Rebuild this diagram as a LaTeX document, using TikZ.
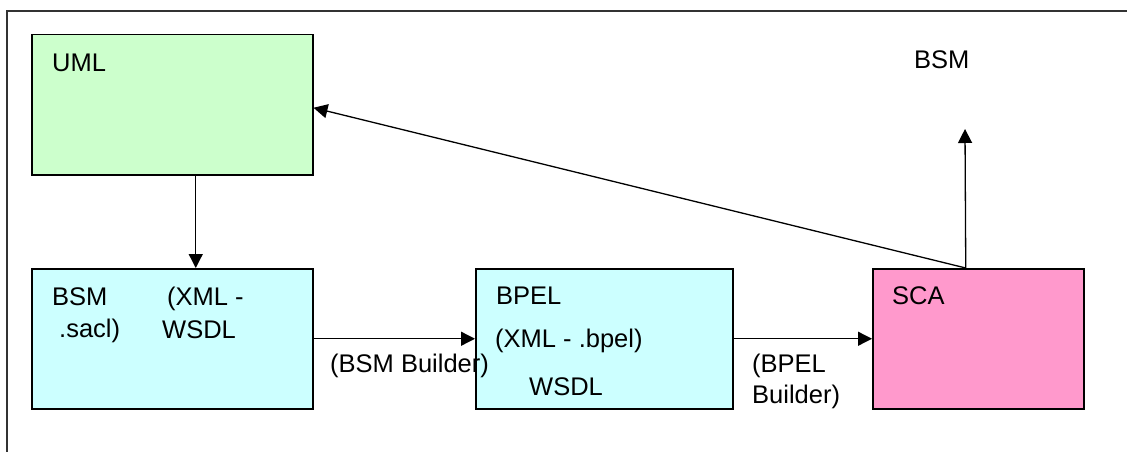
\documentclass[tikz,border=0pt]{standalone}
\usepackage{fontspec}
\setmainfont{Liberation Sans}
\usetikzlibrary{
  arrows.meta
}
\tikzset{
  model box/.style={draw,line width=1.5pt,anchor=north west,inner sep=0pt,minimum height=140pt},
  model text/.style={anchor=base west,inner sep=0pt,font=\fontsize{25.5}{31}\selectfont},
  model link/.style={draw,line width=1.3pt,-{Triangle[length=14pt,width=14pt]}},
}
\definecolor{umlgreen}{HTML}{CCFFCC}
\definecolor{bsmcyan}{HTML}{CCFFFF}
\definecolor{scapink}{HTML}{FF99CC}

\begin{document}
\begin{tikzpicture}[x=1pt,y=-1pt]
\useasboundingbox (0,0) rectangle (1127,452);
\clip (0,0) rectangle (1127,452);
\draw[line width=1.2pt,black!80] (7,470) -- (7,11) -- (1140,11);

\node[model box,fill=umlgreen,minimum width=281pt] (uml) at (31,34) {};
\node[model box,fill=bsmcyan,minimum width=281pt] (bsm) at (31,268) {};
\node[model box,fill=bsmcyan,minimum width=257pt] (bpel) at (475,268) {};
\node[model box,fill=scapink,minimum width=211pt] (sca) at (872,268) {};

\node[model text] (uml-name) at (52,71) {UML};
\node[model text] (bsm-name) at (52,305) {BSM};
\node[model text] (bsm-xml) at (167,305) {(XML -};
\node[model text] (bsm-sacl) at (59,337) {.sacl)};
\node[model text] (bsm-wsdl) at (162,338) {WSDL};
\node[model text] (bpel-name) at (496,304) {BPEL};
\node[model text] (bpel-xml) at (495,347) {(XML - .bpel)};
\node[model text] (bpel-wsdl) at (529,395) {WSDL};
\node[model text] (sca-name) at (892,304) {SCA};
\node[model text] (bsm-builder) at (330,372) {(BSM Builder)};
\node[model text,align=left] (bpel-builder) at (752,403) {(BPEL\\Builder)};
\node[model text] (bsm-out) at (914,68) {BSM};

\coordinate (sca-top) at ([xshift=-12.5pt]sca.north);
\coordinate (bsm-tip) at (965,129);
\draw[model link] ([xshift=23.5pt]uml.south) -- ([xshift=23.5pt]bsm.north);
\draw[model link] (bsm.east) -- (bpel.west);
\draw[model link] (bpel.east) -- (sca.west);
\draw[model link] (sca-top) -- ([yshift=-3pt]uml.east);
\draw[model link] (sca-top) -- (bsm-tip);
\end{tikzpicture}
\end{document}
